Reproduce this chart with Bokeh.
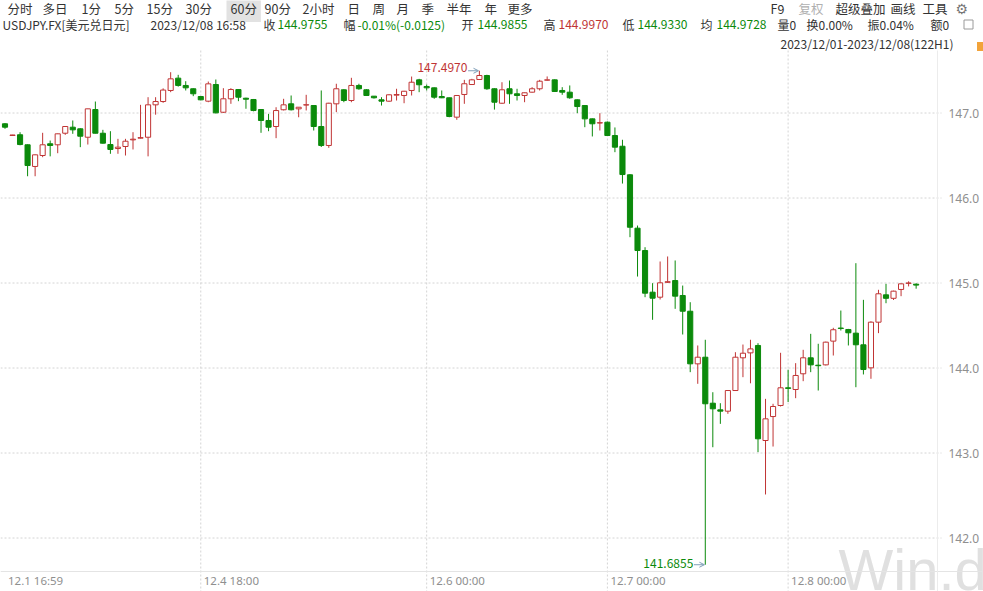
import numpy as np
from bokeh.plotting import figure
from bokeh.models import Label, Arrow, OpenHead, ColumnDataSource
from bokeh.embed import file_html
from bokeh.resources import INLINE

# ---------------- data (USDJPY.FX, 60-minute bars, 122 bars) ----------------
opens = [146.873, 146.736, 146.744, 146.626, 146.371, 146.500, 146.638, 146.626, 146.762, 146.833,
         146.814, 146.715, 147.041, 146.762, 146.629, 146.582, 146.606, 146.684, 146.704, 146.715,
         147.096, 147.135, 147.265, 147.410, 147.324, 147.285, 147.194, 147.139, 147.335, 147.009,
         147.167, 147.276, 147.174, 147.159, 147.041, 146.912, 146.841, 147.038, 147.108, 147.049,
         147.094, 147.088, 146.841, 146.618, 147.108, 147.273, 147.147, 147.324, 147.273, 147.198,
         147.155, 147.139, 147.210, 147.206, 147.265, 147.390, 147.312, 147.296, 147.194, 147.179,
         146.951, 147.218, 147.335, 147.394, 147.441, 147.285, 147.115, 147.285, 147.226, 147.206,
         147.245, 147.285, 147.386, 147.390, 147.265, 147.245, 147.155, 147.088, 146.931, 146.882,
         146.892, 146.735, 146.609, 146.273, 145.645, 145.382, 144.892, 144.833, 145.008, 145.029,
         144.853, 144.668, 144.049, 144.127, 143.586, 143.508, 143.492, 143.735, 144.120, 144.178,
         144.265, 143.147, 143.429, 143.559, 143.767, 143.747, 143.932, 144.120, 144.033, 144.037,
         144.316, 144.470, 144.453, 144.410, 144.273, 144.002, 144.539, 144.861, 144.820, 144.924,
         144.996, 144.9855]
highs = [146.880, 146.743, 146.774, 146.630, 146.512, 146.767, 146.676, 146.757, 146.845, 146.912,
         146.820, 147.050, 147.135, 146.802, 146.786, 146.696, 146.696, 146.774, 147.096, 147.186,
         147.186, 147.290, 147.480, 147.449, 147.374, 147.290, 147.200, 147.370, 147.394, 147.292,
         147.292, 147.280, 147.180, 147.165, 147.045, 146.990, 147.068, 147.167, 147.206, 147.070,
         147.214, 147.090, 147.265, 147.120, 147.344, 147.280, 147.414, 147.344, 147.280, 147.200,
         147.186, 147.220, 147.285, 147.260, 147.429, 147.402, 147.335, 147.300, 147.265, 147.180,
         147.210, 147.390, 147.402, 147.497, 147.450, 147.290, 147.362, 147.382, 147.285, 147.240,
         147.304, 147.390, 147.430, 147.395, 147.304, 147.324, 147.160, 147.090, 146.935, 146.998,
         146.900, 146.830, 146.685, 146.280, 145.676, 145.421, 144.998, 145.253, 145.312, 145.265,
         144.970, 144.774, 144.265, 144.332, 143.715, 143.586, 143.740, 144.186, 144.276, 144.332,
         144.292, 143.637, 143.579, 144.179, 143.980, 144.057, 144.214, 144.402, 144.285, 144.310,
         144.473, 144.676, 144.460, 145.233, 144.802, 144.550, 144.920, 144.990, 144.910, 144.995,
         145.020, 144.997]
lows = [146.814, 146.734, 146.620, 146.256, 146.256, 146.480, 146.490, 146.527, 146.743, 146.755,
        146.598, 146.629, 146.760, 146.640, 146.520, 146.520, 146.500, 146.571, 146.700, 146.490,
        146.980, 147.120, 147.245, 147.310, 147.265, 147.198, 147.150, 147.127, 146.995, 147.000,
        147.108, 147.139, 147.050, 147.020, 146.767, 146.786, 146.704, 147.030, 147.030, 146.950,
        147.030, 146.794, 146.600, 146.590, 147.010, 147.127, 147.127, 147.273, 147.200, 147.170,
        147.088, 147.130, 147.147, 147.115, 147.206, 147.245, 147.265, 147.167, 147.175, 146.950,
        146.920, 147.108, 147.330, 147.390, 147.273, 147.040, 147.108, 147.108, 147.147, 147.127,
        147.240, 147.265, 147.380, 147.250, 147.214, 147.167, 146.998, 146.833, 146.724, 146.794,
        146.730, 146.539, 146.170, 145.539, 145.076, 144.833, 144.567, 144.806, 145.000, 144.696,
        144.394, 143.951, 143.814, 141.6855, 143.068, 143.343, 143.461, 143.730, 143.892, 143.820,
        143.010, 142.512, 143.076, 143.547, 143.600, 143.645, 143.845, 143.951, 143.735, 144.030,
        144.147, 144.441, 144.265, 143.774, 143.924, 143.873, 144.410, 144.762, 144.800, 144.845,
        144.960, 144.933]
closes = [146.833, 146.741, 146.629, 146.382, 146.508, 146.626, 146.618, 146.755, 146.841, 146.802,
          146.727, 147.049, 146.762, 146.645, 146.571, 146.598, 146.668, 146.692, 146.710, 147.096,
          147.135, 147.270, 147.402, 147.324, 147.296, 147.226, 147.155, 147.343, 147.002, 147.167,
          147.276, 147.186, 147.162, 147.029, 146.912, 146.833, 147.029, 147.096, 147.038, 147.068,
          147.097, 146.841, 146.618, 147.115, 147.285, 147.147, 147.324, 147.285, 147.206, 147.179,
          147.139, 147.214, 147.217, 147.256, 147.362, 147.332, 147.296, 147.186, 147.179, 146.959,
          147.206, 147.344, 147.390, 147.441, 147.285, 147.127, 147.273, 147.226, 147.206, 147.238,
          147.285, 147.374, 147.390, 147.253, 147.245, 147.179, 147.076, 146.931, 146.873, 146.886,
          146.735, 146.598, 146.276, 145.656, 145.382, 144.880, 144.821, 145.002, 145.015, 144.845,
          144.668, 144.049, 144.127, 143.579, 143.520, 143.492, 143.735, 144.127, 144.174, 144.225,
          143.167, 143.402, 143.547, 143.767, 143.760, 143.912, 144.120, 144.037, 144.027, 144.304,
          144.450, 144.465, 144.414, 144.273, 143.982, 144.539, 144.873, 144.820, 144.904, 144.990,
          145.000, 144.9755]

x_tick_idx = [0, 26, 56, 80, 104]
x_tick_labels = ["12.1 16:59", "12.4 18:00", "12.6 00:00", "12.7 00:00", "12.8 00:00"]
y_ticks = [142.0, 143.0, 144.0, 145.0, 146.0, 147.0]

period_tabs = ["分时", "多日", "1分", "5分", "15分", "30分", "60分", "90分", "2小时",
               "日", "周", "月", "季", "半年", "年", "更多"]
active_tab = "60分"
tool_tabs = ["F9", "复权", "超级叠加", "画线", "工具"]
quote_title = "USDJPY.FX[美元兑日元]"
quote_time = "2023/12/08 16:58"
quote_fields = [("收", "144.9755", "dn"), ("幅", "-0.01%(-0.0125)", "dn"), ("开", "144.9855", "dn"),
                ("高", "144.9970", "up"), ("低", "144.9330", "dn"), ("均", "144.9728", "dn")]
quote_extra = ["量0", "换0.00%", "振0.04%", "额0"]
range_text = "2023/12/01-2023/12/08(122H1)"

# ---------------- styling / layout ----------------
UP = "#c03434"
DN = "#0b8a0b"
TXT = "#333333"
GRAY = "#8f8f8f"
GRID = "#d4d4d4"
CJK = "Noto Sans CJK SC"

W, H = 983, 591
PX_PER_BAR = 7.53          # horizontal pixels per bar
PX_PER_UNIT = 85.0         # vertical pixels per 1.0 JPY
X0_PX = 4.5                # pixel position of bar 0
Y147_PX = 112.5            # pixel position of 147.0
xs = -X0_PX / PX_PER_BAR
ytop = 147.0 + Y147_PX / PX_PER_UNIT

p = figure(width=W, height=H, output_backend="svg", toolbar_location=None,
           x_range=(xs, xs + W / PX_PER_BAR), y_range=(ytop - H / PX_PER_UNIT, ytop),
           x_axis_location=None, y_axis_location=None,
           min_border_left=0, min_border_right=0, min_border_top=0, min_border_bottom=0)
p.outline_line_color = None
p.background_fill_color = "white"
p.border_fill_color = "white"
p.xgrid.visible = False
p.ygrid.visible = False

def dx(px):  # page pixel -> bar index
    return xs + px / PX_PER_BAR
def dy(py):  # page pixel -> price
    return ytop - py / PX_PER_UNIT

CHART_TOP, CHART_BOTTOM, CHART_RIGHT = 50, 571, 941

# watermark (drawn first, behind everything)
p.add_layout(Label(x=838, y=22, x_units="screen", y_units="screen", text="Win.d",
                   text_color="#e0e0e0", text_font="Liberation Sans", text_font_size="58px",
                   text_baseline="alphabetic", level="underlay"))

# grid
p.segment(x0=[dx(0)] * len(y_ticks), y0=y_ticks, x1=[dx(CHART_RIGHT)] * len(y_ticks), y1=y_ticks,
          line_color=GRID, line_dash="2 2", line_width=1)
p.segment(x0=x_tick_idx[1:], y0=[dy(CHART_TOP)] * 4, x1=x_tick_idx[1:], y1=[dy(H)] * 4,
          line_color=GRID, line_dash="2 2", line_width=1)
p.segment(x0=[dx(0)], y0=[dy(CHART_BOTTOM)], x1=[dx(W)], y1=[dy(CHART_BOTTOM)],
          line_color="#e4e4e4", line_width=1)
p.segment(x0=[dx(937)], y0=[dy(CHART_TOP)], x1=[dx(937)], y1=[dy(H)],
          line_color="#ececec", line_width=1)

# small toolbar icons at the right edge
p.rect(x=[dx(968)], y=[dy(24)], width=9 / PX_PER_BAR, height=9 / PX_PER_UNIT,
       fill_color=None, line_color="#9a9a9a", line_width=1)
p.rect(x=[dx(980)], y=[dy(46)], width=7 / PX_PER_BAR, height=9 / PX_PER_UNIT,
       fill_color="#f2a33a", line_color=None)

# candles
o = np.array(opens); h = np.array(highs); l = np.array(lows); c = np.array(closes)
idx = np.arange(len(o))
is_up = c >= o
col = np.where(is_up, UP, DN)
fill = np.where(is_up, "white", DN)
src = ColumnDataSource(dict(x=idx, o=o, h=h, l=l, c=c,
                            top=np.maximum(o, c), bot=np.minimum(o, c),
                            col=col, fill=fill))
p.segment(x0="x", y0="h", x1="x", y1="l", source=src, line_color="col", line_width=1)
p.vbar(x="x", width=0.68, top="top", bottom="bot", source=src,
       fill_color="fill", line_color="col", line_width=1)

# helpers for text placed by page pixel
def lab(text, px, py, color=TXT, size="12px", font=CJK, **kw):
    p.add_layout(Label(x=px, y=H - py, x_units="screen", y_units="screen", text=text,
                       text_color=color, text_font=font, text_font_size=size,
                       text_baseline="middle", text_align=kw.pop("align", "left"), **kw))

# max / min markers
imax = int(np.argmax(h)); imin = int(np.argmin(l))
ARW = "#7f9fb8"
p.add_layout(Label(x=imax, y=h[imax], text=f"{h[imax]:.4f}", text_align="right",
                   text_baseline="middle", x_offset=-12, y_offset=3, text_color=UP,
                   text_font=CJK, text_font_size="12px"))
p.add_layout(Arrow(x_start=imax - 1.5, y_start=h[imax], x_end=imax - 0.12, y_end=h[imax],
                   line_color=ARW, line_width=1,
                   end=OpenHead(size=5, line_color=ARW, line_width=1)))
p.add_layout(Label(x=imin, y=l[imin], text=f"{l[imin]:.4f}", text_align="right",
                   text_baseline="middle", x_offset=-12, y_offset=1, text_color=DN,
                   text_font=CJK, text_font_size="12px"))
p.add_layout(Arrow(x_start=imin - 1.5, y_start=l[imin], x_end=imin - 0.12, y_end=l[imin],
                   line_color=ARW, line_width=1,
                   end=OpenHead(size=5, line_color=ARW, line_width=1)))

# y tick labels (right side)
for t in y_ticks:
    p.add_layout(Label(x=948, y=t, x_units="screen", y_units="data", text=f"{t:.1f}",
                       text_color=GRAY, text_font="Noto Sans", text_font_size="12px",
                       text_baseline="middle", text_align="left"))

# x tick labels
for i, t in zip(x_tick_idx, x_tick_labels):
    p.add_layout(Label(x=i, y=H - 580, x_units="data", y_units="screen", text=t, x_offset=3,
                       text_color=GRAY, text_font="Noto Sans", text_font_size="11.5px",
                       text_baseline="middle", text_align="left"))

# header row 1
tab_x = [7, 42, 81, 114, 146, 185, 226, 264, 302, 347, 372, 396, 421, 446, 484, 507]
ROW1 = 8
for t, x in zip(period_tabs, tab_x):
    if t == active_tab:
        lab(t, x, ROW1, size="12.5px", background_fill_color="#e2e2e2", padding=4)
    else:
        lab(t, x, ROW1, size="12.5px")
tool_x = [770, 798, 835, 890, 922]
for t, x in zip(tool_tabs, tool_x):
    lab(t, x, ROW1, color="#b0b0b0" if t == "复权" else TXT, size="12.5px")
lab("⚙", 955, ROW1, color="#777777", size="14px", font="DejaVu Sans")

# header row 2
ROW2 = 24
lab(quote_title, 2, ROW2)
lab(quote_time, 150, ROW2)
fx = [(263, 277), (343, 357), (461, 477), (543, 558), (622, 637), (700, 716)]
for (k, v, d), (kx, vx) in zip(quote_fields, fx):
    lab(k, kx, ROW2)
    lab(v, vx, ROW2, color=UP if d == "up" else DN)
for t, x in zip(quote_extra, [777, 806, 867, 930]):
    lab(t, x, ROW2)

# header row 3
lab(range_text, 780, 43)

open("out.html", "w").write(file_html(p, INLINE))
